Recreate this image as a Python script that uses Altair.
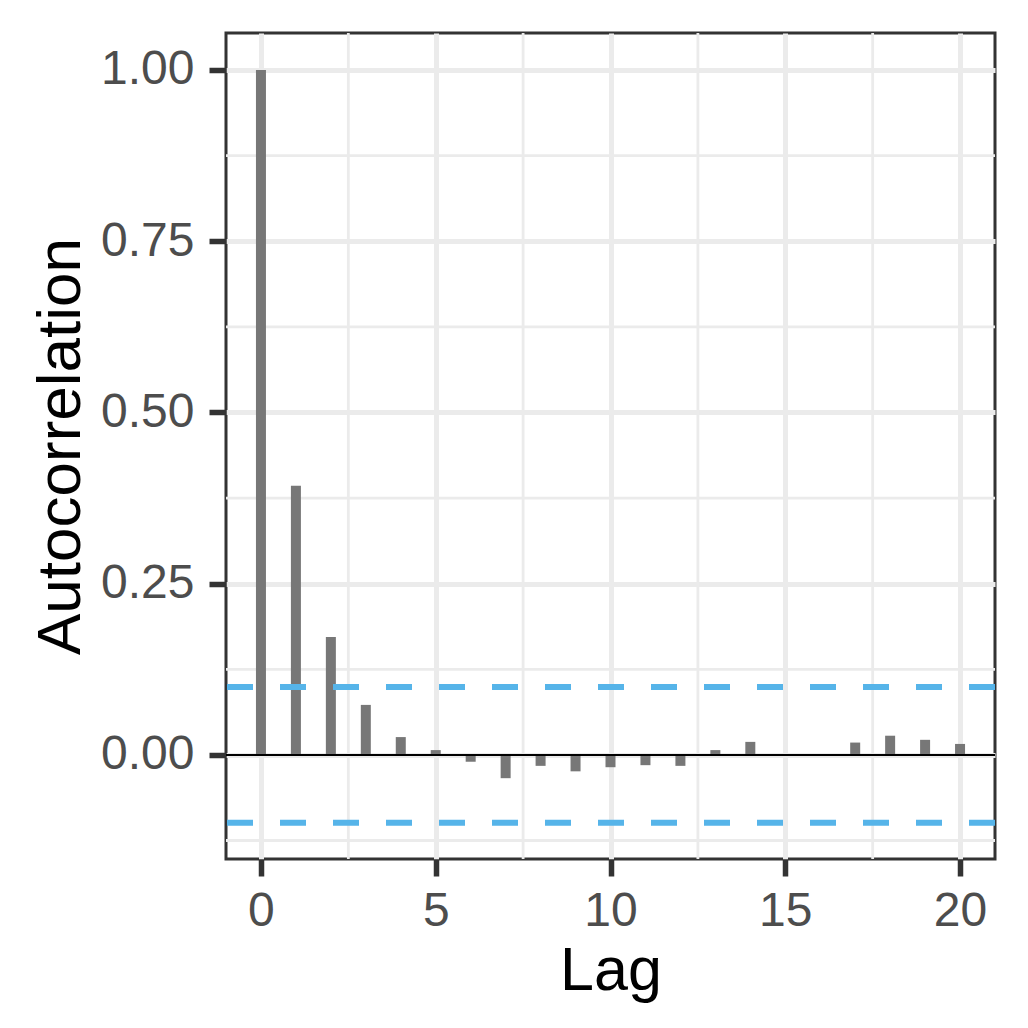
import altair as alt
import pandas as pd

lags = list(range(21))
acf = [1.0, 0.393, 0.172, 0.073, 0.026, 0.007, -0.010, -0.034, -0.016, -0.024,
       -0.018, -0.015, -0.016, 0.007, 0.019, -0.001, 0.001, 0.018, 0.028, 0.022, 0.016]
ci = 0.099
x_major = [0, 5, 10, 15, 20]
x_minor = [2.5, 7.5, 12.5, 17.5]
y_major = [0.0, 0.25, 0.5, 0.75, 1.0]
y_minor = [-0.125, 0.125, 0.375, 0.625, 0.875]

xdom = [-1, 21]
ydom = [-0.152, 1.054]

df = pd.DataFrame({"lag": lags, "acf": acf, "zero": [0.0] * len(lags)})
xs = alt.Scale(domain=xdom, nice=False, zero=False)
ys = alt.Scale(domain=ydom, nice=False, zero=False)

xaxis = alt.Axis(title="Lag", values=x_major, format="d", grid=True, gridColor="#EBEBEB",
                 gridWidth=5, tickColor="#333333", tickWidth=5.5, tickSize=17,
                 labelFontSize=48, labelColor="#4D4D4D", labelFont="Liberation Sans",
                 labelPadding=11, titleFontSize=61, titleFont="Liberation Sans",
                 titleFontWeight="normal", titleColor="#000000", titlePadding=6,
                 domain=False, labelFlush=False)
yaxis = alt.Axis(title="Autocorrelation", values=y_major, format=".2f", grid=True,
                 gridColor="#EBEBEB", gridWidth=5, tickColor="#333333", tickWidth=5.5,
                 tickSize=17, labelFontSize=48, labelColor="#4D4D4D",
                 labelFont="Liberation Sans", labelPadding=15, titleFontSize=62,
                 titleFont="Liberation Sans", titleFontWeight="normal",
                 titleColor="#000000", titlePadding=8, domain=False, labelFlush=False)

base = alt.Chart(df)

xminor = alt.Chart(pd.DataFrame({"v": x_minor})).mark_rule(
    color="#EBEBEB", strokeWidth=2.8).encode(x=alt.X("v:Q", scale=xs, axis=xaxis))
yminor = alt.Chart(pd.DataFrame({"v": y_minor})).mark_rule(
    color="#EBEBEB", strokeWidth=2.8).encode(y=alt.Y("v:Q", scale=ys, axis=yaxis))

bars = base.mark_rule(color="#777777", strokeWidth=10, strokeCap="butt").encode(
    x=alt.X("lag:Q", scale=xs, axis=xaxis),
    y=alt.Y("zero:Q", scale=ys, axis=yaxis),
    y2="acf:Q",
)

zero = alt.Chart(pd.DataFrame({"v": [0.0]})).mark_rule(color="#000000", strokeWidth=2).encode(
    y=alt.Y("v:Q", scale=ys, axis=yaxis))

ci_lines = alt.Chart(pd.DataFrame({"v": [ci, -ci]})).mark_rule(
    color="#56B4E9", strokeWidth=6, strokeDash=[26, 27], strokeCap="butt").encode(
    y=alt.Y("v:Q", scale=ys, axis=yaxis))

chart = alt.layer(xminor, yminor, bars, zero, ci_lines).properties(
    width=769, height=826,
    autosize=alt.AutoSizeParams(type="none"),
    padding={"left": 218, "top": 25, "right": 25, "bottom": 161},
    background="#FFFFFF",
).configure_view(stroke="#333333", strokeWidth=3)

chart.save("out.html", embed_options={"renderer": "svg", "actions": False})
